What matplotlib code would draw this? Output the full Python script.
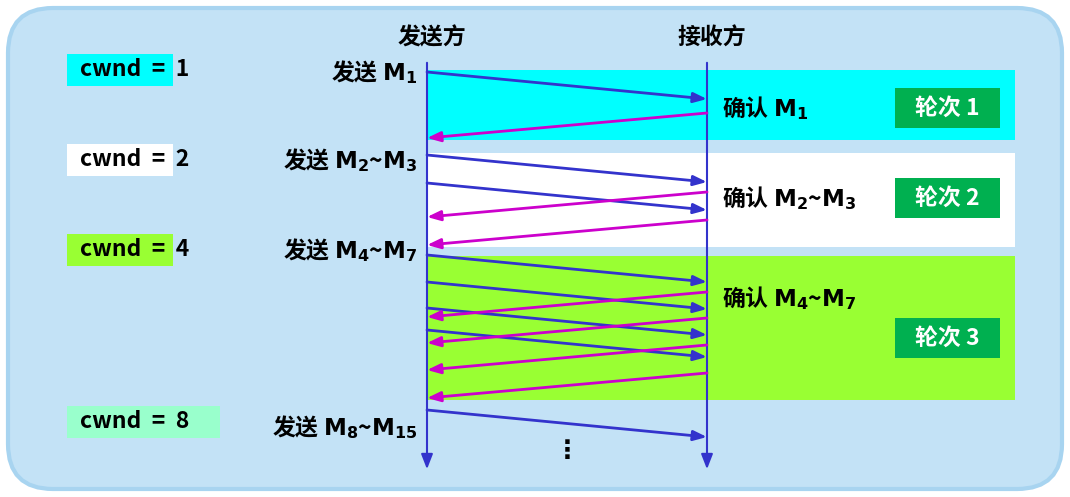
import matplotlib
matplotlib.use("Agg")
import matplotlib.pyplot as plt
from matplotlib.patches import FancyBboxPatch, Rectangle

plt.rcParams['font.family'] = ['Noto Sans CJK SC', 'DejaVu Sans']
plt.rcParams['mathtext.fontset'] = 'dejavusans'

cwnd_labels = ["cwnd = 1", "cwnd = 2", "cwnd = 4", "cwnd = 8"]
cwnd_y = [70, 160, 250, 422]
cwnd_w = [106, 106, 106, 153]
cwnd_colors = ["#00ffff", "#ffffff", "#99ff33", "#99ffcc"]
send_labels = [r"发送 $\mathbf{M_1}$", r"发送 $\mathbf{M_2}$~$\mathbf{M_3}$",
               r"发送 $\mathbf{M_4}$~$\mathbf{M_7}$", r"发送 $\mathbf{M_8}$~$\mathbf{M_{15}}$"]
send_label_y = [72, 160, 250, 427]
ack_labels = [r"确认 $\mathbf{M_1}$", r"确认 $\mathbf{M_2}$~$\mathbf{M_3}$", r"确认 $\mathbf{M_4}$~$\mathbf{M_7}$"]
ack_label_y = [108, 198, 298]
round_labels = ["轮次 1", "轮次 2", "轮次 3"]
round_y = [108, 198, 338]
band_top = [70, 153, 256]
band_bot = [140, 247, 400]
band_colors = ["#00ffff", "#ffffff", "#99ff33"]
data_starts = [72, 155, 183, 255, 282, 308, 330, 410]
ack_starts = [113, 192, 220, 292, 318, 345, 373]
slope = 27

fig = plt.figure(figsize=(10.7, 4.97), dpi=100)
ax = fig.add_axes([0, 0, 1, 1])
ax.set_xlim(0, 1070); ax.set_ylim(497, 0); ax.axis('off')

ax.add_patch(FancyBboxPatch((8, 8), 1054, 481, boxstyle="round,pad=0,rounding_size=45",
                            fc="#c3e2f6", ec="#a8d4f0", lw=3))
SX, RX = 427, 707
FS = 16.5
for t, b, c in zip(band_top, band_bot, band_colors):
    ax.add_patch(Rectangle((SX, t), 1015 - SX, b - t, fc=c, ec='none'))
for y, r in zip(round_y, round_labels):
    ax.add_patch(Rectangle((895, y - 20), 105, 40, fc="#00b050", ec='none'))
    ax.text(947, y, r, color='white', fontsize=FS, fontweight='bold', ha='center', va='center')
for lab, y, w, c in zip(cwnd_labels, cwnd_y, cwnd_w, cwnd_colors):
    ax.add_patch(Rectangle((67, y - 16), w, 32, fc=c, ec='none'))
    ax.text(80, y, lab.replace(" = ", "  =  "), fontsize=FS, fontweight='bold', ha='left', va='center')
for lab, y in zip(send_labels, send_label_y):
    ax.text(417, y, lab, fontsize=FS, fontweight='bold', ha='right', va='center')
for lab, y in zip(ack_labels, ack_label_y):
    ax.text(722, y, lab, fontsize=FS, fontweight='bold', ha='left', va='center')
ax.text(SX + 5, 38, "发送方", fontsize=FS, fontweight='bold', ha='center', va='center')
ax.text(RX + 5, 38, "接收方", fontsize=FS, fontweight='bold', ha='center', va='center')

for x in (SX, RX):
    ax.annotate("", xy=(x, 472), xytext=(x, 60),
                arrowprops=dict(arrowstyle="-|>,head_length=0.9,head_width=0.35", color="#3333cc", lw=1.5))
for y in data_starts:
    ax.annotate("", xy=(RX, y + slope), xytext=(SX, y),
                arrowprops=dict(arrowstyle="-|>,head_length=0.8,head_width=0.3", color="#3333cc", lw=2,
                                shrinkA=0, shrinkB=0))
for y in ack_starts:
    ax.annotate("", xy=(SX, y + slope - 2), xytext=(RX, y),
                arrowprops=dict(arrowstyle="-|>,head_length=0.8,head_width=0.3", color="#cc00cc", lw=2,
                                shrinkA=0, shrinkB=0))
ax.text(567, 451, "⋮", fontsize=18, fontweight='bold', ha='center', va='center', family='DejaVu Sans')
fig.savefig("out.png", dpi=100)
